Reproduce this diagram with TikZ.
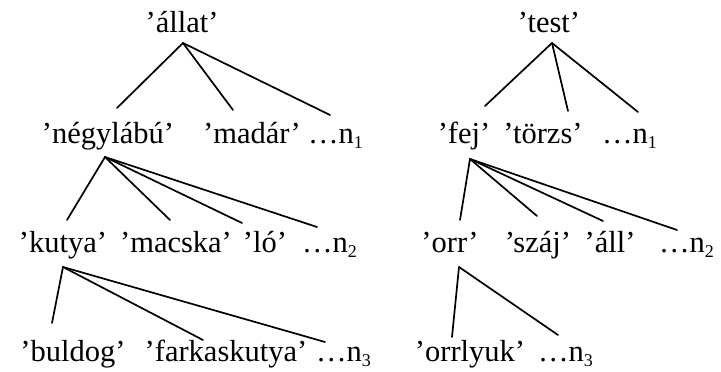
\documentclass[tikz,border=0pt]{standalone}
\usepackage{fontspec}
\setmainfont{Liberation Serif}
% small, slightly lowered index after the ellipsis
\newcommand\subidx[1]{\raisebox{-0.17em}{\fontsize{18}{18}\selectfont #1}}
\begin{document}
\begin{tikzpicture}[x=1pt,y=-1pt,
  word/.style={inner sep=0pt,anchor=base,font=\fontsize{30.5}{34}\selectfont},
  tail/.style={word,anchor=base west},
  branch/.style={line width=1.7pt,line cap=round}]
\useasboundingbox (0,0) rectangle (721,372);

% ---- left tree: 'állat'
\node[word] (allat) at (182,32) {’állat’};
\node[word] (negy)  at (108,143) {’négylábú’};
\node[word] (madar) at (252,143) {’madár’};
\node[tail] (nA1)   at (308,143) {…n\subidx{1}};
\node[word] (kutya) at (63,252) {’kutya’};
\node[word] (macska) at (176,252) {’macska’};
\node[word] (lo)    at (265,252) {’ló’};
\node[tail] (nA2)   at (302,252) {…n\subidx{2}};
\node[word] (buldog) at (73,361) {’buldog’};
\node[word] (farkas) at (226,361) {’farkaskutya’};
\node[tail] (nA3)   at (316,361) {…n\subidx{3}};

% ---- right tree: 'test'
\node[word] (test)  at (549,32) {’test’};
\node[word] (fej)   at (464,143) {’fej’};
\node[word] (torzs) at (543,143) {’törzs’};
\node[tail] (nB1)   at (602,143) {…n\subidx{1}};
\node[word] (orr)   at (450,252) {’orr’};
\node[word] (szaj)  at (538,252) {’száj’};
\node[word] (all)   at (610,252) {’áll’};
\node[tail] (nB2)   at (659,252) {…n\subidx{2}};
\node[word] (orrlyuk) at (470,361) {’orrlyuk’};
\node[tail] (nB3)   at (538,361) {…n\subidx{3}};

% branching points under the parent words
\coordinate (allat-f) at (183,43);
\coordinate (negy-f)  at (105,157);
\coordinate (kutya-f) at (63,267);
\coordinate (test-f)  at (552,43);
\coordinate (fej-f)   at (470,159);
\coordinate (orr-f)   at (459,267);

% line ends above the child words
\coordinate (negy-t)   at (117,108);
\coordinate (madar-t)  at (233,110);
\coordinate (nA1-t)    at (330,115);
\coordinate (kutya-t)  at (67,220);
\coordinate (macska-t) at (170,220);
\coordinate (lo-t)     at (242,223);
\coordinate (nA2-t)    at (317,227);
\coordinate (buldog-t) at (52,323);
\coordinate (farkas-t) at (203,340);
\coordinate (nA3-t)    at (325,342);

\coordinate (fej-t)    at (485,106);
\coordinate (torzs-t)  at (568,111);
\coordinate (nB1-t)    at (638,112);
\coordinate (orr-t)    at (460,220);
\coordinate (szaj-t)   at (537,216);
\coordinate (all-t)    at (603,221);
\coordinate (nB2-t)    at (677,230);
\coordinate (orrlyuk-t) at (452,337);
\coordinate (nB3-t)    at (558,335);

\foreach \p/\c in {allat/negy,allat/madar,allat/nA1,
                   negy/kutya,negy/macska,negy/lo,negy/nA2,
                   kutya/buldog,kutya/farkas,kutya/nA3,
                   test/fej,test/torzs,test/nB1,
                   fej/orr,fej/szaj,fej/all,fej/nB2,
                   orr/orrlyuk,orr/nB3}
  \draw[branch] (\p-f) -- (\c-t);
\end{tikzpicture}
\end{document}
